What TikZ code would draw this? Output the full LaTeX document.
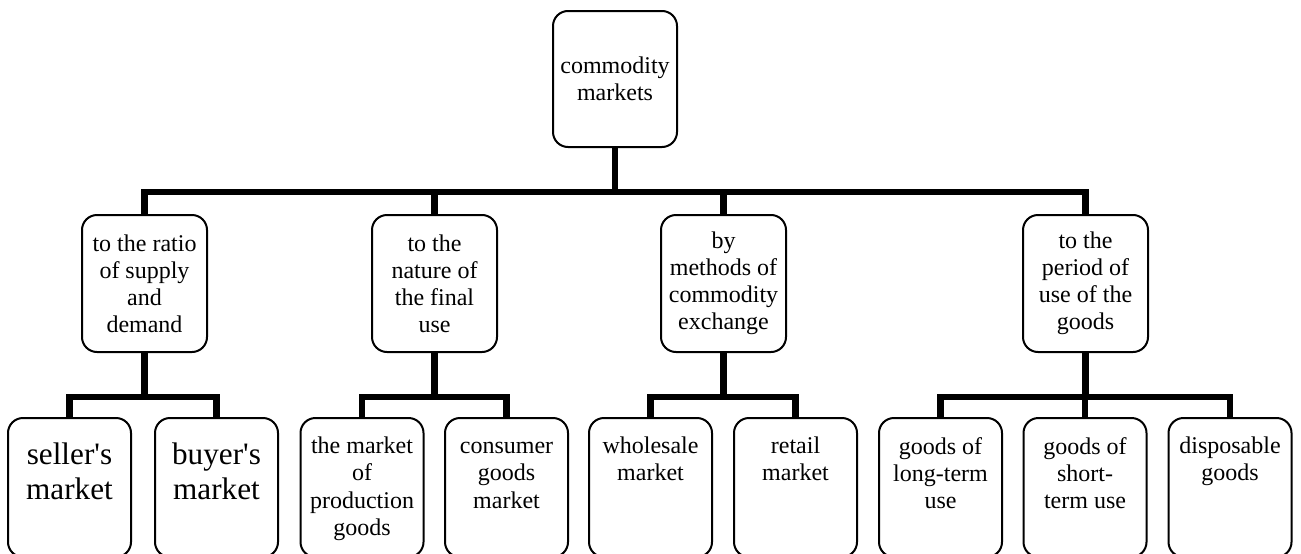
\documentclass[tikz,border=0pt]{standalone}
\usepackage{fontspec}
\setmainfont{Liberation Serif}
\newlength\px
\setlength\px{0.75pt}
\newcommand\mytxt{\fontsize{18pt}{20.3pt}\selectfont}
\newcommand\bigtxt{\fontsize{23.4pt}{26.2pt}\selectfont}
\tikzset{
  box/.style={draw=black, line width=1.5pt, rounded corners=15\px, fill=white},
  topbox/.style={box, minimum width=124\px, minimum height=136\px, align=center, font=\mytxt, inner sep=0pt},
  midbox/.style={box, minimum width=125\px, minimum height=137\px, align=center, font=\mytxt, inner sep=0pt},
  leafbox/.style={box, minimum width=123\px, minimum height=139\px, inner sep=0pt},
  lbl/.style={anchor=north, align=center, inner sep=0pt, font=\mytxt, yshift=-20\px},
  biglbl/.style={anchor=north, align=center, inner sep=0pt, font=\bigtxt, yshift=-26\px},
  conn/.style={line width=6.5\px, line join=miter, line cap=butt}
}
\begin{document}
\begin{tikzpicture}[x=0.75pt,y=-0.75pt]
\useasboundingbox (0,0) rectangle (1301,553);
\coordinate (bar1) at (0,192);
% top
\node[topbox] (top) at (615,79) {commodity\\markets};
% middle
\node[midbox] (m1) at (144.5,283.5) {to the ratio\\of supply\\and\\demand};
\node[midbox] (m2) at (434.5,283.5) {to the\\nature of\\the final\\use};
\node[midbox] (m3) at (723.5,283.5) {by\\methods of\\commodity\\exchange};
\node[midbox] (m4) at (1085.5,283.5) {to the\\period of\\use of the\\goods};
% leaves
\node[leafbox, label={[biglbl]north:{seller\textquotesingle s\\market}}] (l1) at (69.5,487.5) {};
\node[leafbox, label={[biglbl]north:{buyer\textquotesingle s\\market}}] (l2) at (216.5,487.5) {};
\node[leafbox, label={[lbl]north:{the market\\of\\production\\goods}}] (l3) at (362,487.5) {};
\node[leafbox, label={[lbl]north:{\vphantom{h}consumer\\goods\\market}}] (l4) at (506.5,487.5) {};
\node[leafbox, label={[lbl]north:{wholesale\\market}}] (l5) at (650.5,487.5) {};
\node[leafbox, label={[lbl]north:{retail\\market}}] (l6) at (795.5,487.5) {};
\node[leafbox, label={[lbl]north:{goods of\\long-term\\use}}] (l7) at (940.5,487.5) {};
\node[leafbox, label={[lbl]north:{goods of\\short-\\term use}}] (l8) at (1085,487.5) {};
\node[leafbox, label={[lbl]north:{disposable\\goods}}] (l9) at (1230,487.5) {};
% connectors level 1
\foreach \m in {m1,m2,m3,m4}
  \draw[conn] (top.south) -- (top.south |- bar1) -| (\m.north);
% connectors level 2
\coordinate (bar2) at (0,397);
\foreach \m/\l in {m1/l1,m1/l2,m2/l3,m2/l4,m3/l5,m3/l6,m4/l7,m4/l8,m4/l9}
  \draw[conn] (\m.south) -- (\m.south |- bar2) -| (\l.north);
\end{tikzpicture}
\end{document}
